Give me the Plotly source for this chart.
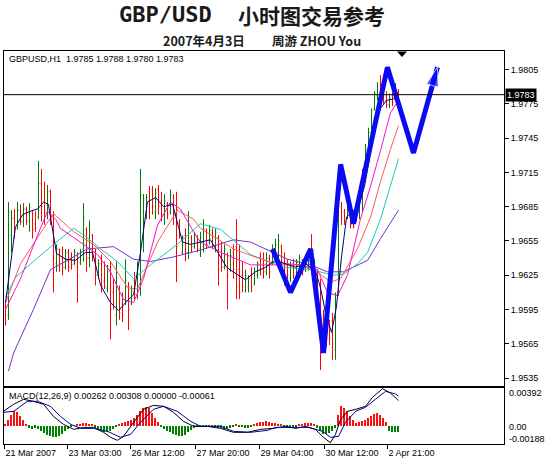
import plotly.graph_objects as go

W, H = 550, 463

# ---------------- price bars (GBPUSD H1) ----------------
open_ = [1.9598, 1.9590, 1.9660, 1.9675, 1.9667, 1.9682, 1.9672, 1.9683, 1.9672, 1.9680,
         1.9670, 1.9676, 1.9705, 1.9690, 1.9680, 1.9698, 1.9675, 1.9635, 1.9648, 1.9640,
         1.9632, 1.9645, 1.9640, 1.9635, 1.9643, 1.9636, 1.9648, 1.9665, 1.9640, 1.9660,
         1.9645, 1.9625, 1.9635, 1.9620, 1.9614, 1.9628, 1.9610, 1.9590, 1.9612, 1.9600,
         1.9603, 1.9615, 1.9600, 1.9620, 1.9608, 1.9625, 1.9680, 1.9680, 1.9698, 1.9700,
         1.9680, 1.9700, 1.9690, 1.9675, 1.9688, 1.9680, 1.9693, 1.9685, 1.9670, 1.9645,
         1.9660, 1.9645, 1.9658, 1.9650, 1.9658, 1.9648, 1.9650, 1.9663, 1.9654, 1.9662,
         1.9650, 1.9658, 1.9640, 1.9632, 1.9643, 1.9630, 1.9645, 1.9650, 1.9630, 1.9625,
         1.9612, 1.9614, 1.9625, 1.9618, 1.9625, 1.9640, 1.9635, 1.9628, 1.9640, 1.9635,
         1.9642, 1.9645, 1.9650, 1.9635, 1.9635, 1.9622, 1.9635, 1.9627, 1.9630, 1.9638,
         1.9630, 1.9632, 1.9645, 1.9628, 1.9628, 1.9615, 1.9580, 1.9575, 1.9580, 1.9585,
         1.9560, 1.9610, 1.9685, 1.9680, 1.9675, 1.9680, 1.9675, 1.9674, 1.9680, 1.9688,
         1.9712, 1.9733, 1.9750, 1.9770, 1.9782, 1.9792, 1.9786, 1.9782, 1.9774, 1.9782,
         1.9778, 1.9785]
high = [1.9601, 1.9689, 1.9682, 1.9683, 1.9689, 1.9687, 1.9688, 1.9685, 1.9688, 1.9681,
        1.9681, 1.9725, 1.9718, 1.9707, 1.9704, 1.9700, 1.9681, 1.9652, 1.9648, 1.9650,
        1.9648, 1.9648, 1.9645, 1.9648, 1.9645, 1.9648, 1.9688, 1.9667, 1.9673, 1.9661,
        1.9648, 1.9639, 1.9643, 1.9637, 1.9634, 1.9637, 1.9622, 1.9637, 1.9616, 1.9610,
        1.9639, 1.9619, 1.9616, 1.9628, 1.9637, 1.9718, 1.9696, 1.9696, 1.9703, 1.9703,
        1.9701, 1.9704, 1.9698, 1.9696, 1.9689, 1.9700, 1.9696, 1.9698, 1.9674, 1.9660,
        1.9666, 1.9681, 1.9660, 1.9663, 1.9660, 1.9663, 1.9674, 1.9666, 1.9669, 1.9666,
        1.9666, 1.9660, 1.9654, 1.9652, 1.9645, 1.9648, 1.9652, 1.9674, 1.9652, 1.9637,
        1.9630, 1.9625, 1.9632, 1.9632, 1.9637, 1.9645, 1.9645, 1.9645, 1.9643, 1.9652,
        1.9657, 1.9661, 1.9652, 1.9645, 1.9639, 1.9637, 1.9639, 1.9639, 1.9643, 1.9639,
        1.9643, 1.9641, 1.9661, 1.9639, 1.9630, 1.9622, 1.9595, 1.9586, 1.9586, 1.9592,
        1.9610, 1.9716, 1.9689, 1.9683, 1.9687, 1.9681, 1.9678, 1.9687, 1.9692, 1.9718,
        1.9740, 1.9754, 1.9771, 1.9786, 1.9794, 1.9800, 1.9789, 1.9786, 1.9784, 1.9785,
        1.9793, 1.9788]
low = [1.9581, 1.9586, 1.9645, 1.9657, 1.9665, 1.9669, 1.9667, 1.9669, 1.9663, 1.9657,
       1.9663, 1.9674, 1.9672, 1.9669, 1.9674, 1.9669, 1.9610, 1.9628, 1.9628, 1.9625,
       1.9630, 1.9628, 1.9630, 1.9634, 1.9601, 1.9634, 1.9637, 1.9628, 1.9632, 1.9637,
       1.9616, 1.9622, 1.9610, 1.9613, 1.9610, 1.9569, 1.9595, 1.9581, 1.9586, 1.9584,
       1.9599, 1.9577, 1.9599, 1.9604, 1.9604, 1.9607, 1.9645, 1.9674, 1.9674, 1.9678,
       1.9674, 1.9678, 1.9672, 1.9669, 1.9674, 1.9678, 1.9669, 1.9619, 1.9657, 1.9643,
       1.9637, 1.9639, 1.9645, 1.9648, 1.9645, 1.9641, 1.9645, 1.9648, 1.9652, 1.9648,
       1.9645, 1.9616, 1.9628, 1.9630, 1.9595, 1.9628, 1.9622, 1.9604, 1.9604, 1.9610,
       1.9610, 1.9610, 1.9610, 1.9616, 1.9622, 1.9625, 1.9622, 1.9625, 1.9622, 1.9634,
       1.9639, 1.9637, 1.9625, 1.9616, 1.9622, 1.9619, 1.9622, 1.9625, 1.9628, 1.9625,
       1.9628, 1.9629, 1.9634, 1.9625, 1.9610, 1.9542, 1.9557, 1.9562, 1.9564, 1.9551,
       1.9551, 1.9607, 1.9669, 1.9669, 1.9674, 1.9666, 1.9666, 1.9672, 1.9674, 1.9681,
       1.9710, 1.9725, 1.9749, 1.9769, 1.9778, 1.9780, 1.9775, 1.9771, 1.9771, 1.9773,
       1.9778, 1.9780]
close = [1.9585, 1.9680, 1.9675, 1.9665, 1.9682, 1.9672, 1.9683, 1.9673, 1.9684, 1.9665,
         1.9666, 1.9705, 1.9685, 1.9680, 1.9698, 1.9675, 1.9640, 1.9648, 1.9635, 1.9632,
         1.9645, 1.9632, 1.9634, 1.9645, 1.9625, 1.9645, 1.9675, 1.9640, 1.9665, 1.9645,
         1.9625, 1.9635, 1.9615, 1.9615, 1.9628, 1.9595, 1.9600, 1.9615, 1.9592, 1.9590,
         1.9620, 1.9595, 1.9612, 1.9608, 1.9630, 1.9695, 1.9692, 1.9693, 1.9680, 1.9685,
         1.9697, 1.9685, 1.9678, 1.9690, 1.9678, 1.9695, 1.9675, 1.9650, 1.9660, 1.9658,
         1.9645, 1.9670, 1.9650, 1.9660, 1.9648, 1.9658, 1.9665, 1.9652, 1.9664, 1.9652,
         1.9662, 1.9630, 1.9632, 1.9648, 1.9625, 1.9642, 1.9630, 1.9615, 1.9610, 1.9615,
         1.9625, 1.9622, 1.9615, 1.9628, 1.9635, 1.9630, 1.9628, 1.9640, 1.9628, 1.9648,
         1.9652, 1.9655, 1.9632, 1.9622, 1.9625, 1.9634, 1.9625, 1.9636, 1.9640, 1.9628,
         1.9640, 1.9638, 1.9636, 1.9636, 1.9612, 1.9560, 1.9565, 1.9568, 1.9570, 1.9565,
         1.9600, 1.9700, 1.9675, 1.9672, 1.9684, 1.9670, 1.9668, 1.9684, 1.9690, 1.9712,
         1.9735, 1.9750, 1.9768, 1.9784, 1.9790, 1.9783, 1.9778, 1.9774, 1.9780, 1.9776,
         1.9786, 1.9783]
bars = list(range(len(close)))

# ---------------- moving averages ----------------
ma_navy_x = [0, 1.7, 3.3, 5.7, 8.3, 10.7, 12.7, 14.3, 15.7, 17, 20, 23.3, 26.7, 29, 31.7, 35,
             37.7, 40, 42.7, 45, 47.3, 50, 52.7, 55.7, 57.7, 59, 61.7, 65, 68.3, 71, 73.7, 77,
             80, 83.3, 86.7, 90, 93.3, 96.7, 100, 103.3, 105, 107, 108.7, 110.3, 112, 113.7,
             115.7, 117.7, 119.7, 121.7, 123.3, 125, 127, 129, 131]
ma_navy_y = [1.9601, 1.9635, 1.9667, 1.9678, 1.9681, 1.9683, 1.9689, 1.9687, 1.9663, 1.9644,
             1.9639, 1.9638, 1.9645, 1.9645, 1.9616, 1.9601, 1.9594, 1.9601, 1.9608, 1.9645,
             1.9689, 1.9693, 1.9685, 1.9687, 1.9667, 1.9654, 1.9652, 1.9654, 1.9656, 1.9644,
             1.9632, 1.9626, 1.9621, 1.9628, 1.9632, 1.9638, 1.9635, 1.9632, 1.9635, 1.9629,
             1.9614, 1.9588, 1.9575, 1.9597, 1.9641, 1.9676, 1.9681, 1.9685, 1.9703, 1.9734,
             1.9756, 1.9771, 1.9778, 1.9779, 1.9781]
ma_magenta_x = [0, 5, 10.7, 14, 16.7, 18.3, 26, 30.7, 35, 39.3, 42.7, 46, 50.7, 55, 58.3, 62.7,
                65, 71.7, 81.7, 90.7, 98.3, 104, 107.3, 110.7, 114, 118.3, 121.7, 125, 128.3, 131]
ma_magenta_y = [1.9595, 1.9622, 1.9660, 1.9681, 1.9674, 1.9666, 1.9652, 1.9643, 1.9628, 1.9604,
                1.9601, 1.9622, 1.9669, 1.9689, 1.9683, 1.9663, 1.9654, 1.9645, 1.9634, 1.9634,
                1.9634, 1.9630, 1.9610, 1.9607, 1.9625, 1.9674, 1.9703, 1.9734, 1.9767, 1.9778]
ma_salmon_x = [0, 5, 12.7, 16, 22.7, 29.3, 35, 40.7, 44, 50.7, 57.3, 62.7, 65, 76, 87.3, 98.3,
               104, 108.3, 111.7, 117.3, 121.7, 125, 128.3, 131]
ma_salmon_y = [1.9601, 1.9635, 1.9666, 1.9679, 1.9663, 1.9652, 1.9637, 1.9614, 1.9613, 1.9654,
               1.9682, 1.9674, 1.9666, 1.9648, 1.9637, 1.9634, 1.9628, 1.9619, 1.9622, 1.9648,
               1.9676, 1.9707, 1.9735, 1.9756]
ma_cyan_x = [0, 3.3, 9.3, 16, 22.7, 26.7, 31.7, 37.3, 42.7, 48.3, 57.3, 65, 71.7, 81.7, 92.7,
             101.7, 109.3, 112.7, 117.3, 120.7, 125, 128.3, 131]
ma_cyan_y = [1.9606, 1.9623, 1.9637, 1.9652, 1.9666, 1.9659, 1.9648, 1.9637, 1.9622, 1.9634,
             1.9652, 1.9670, 1.9665, 1.9643, 1.9632, 1.9630, 1.9625, 1.9626, 1.9635, 1.9645,
             1.9674, 1.9703, 1.9727]
ma_purple_x = [1, 2.7, 9.3, 15, 20.7, 27.3, 36, 42.7, 48.3, 56, 65, 76, 81.7, 87.3, 94, 101.7,
               107.3, 112.7, 120.7, 125, 131]
ma_purple_y = [1.9541, 1.9557, 1.9595, 1.9630, 1.9638, 1.9648, 1.9650, 1.9639, 1.9637, 1.9641,
               1.9647, 1.9656, 1.9654, 1.9647, 1.9639, 1.9634, 1.9628, 1.9628, 1.9638, 1.9657,
               1.9682]

# ---------------- hand-drawn forecast line ----------------
arrow_x = [89, 95, 101.7, 106, 111.7, 116, 127.3, 136, 144]
arrow_y = [1.9648, 1.9610, 1.9648, 1.9557, 1.9722, 1.9670, 1.9807, 1.9732, 1.9807]

# ---------------- MACD(12,26,9) ----------------
macd_hist = [0.0002, 0.0006, 0.0011, 0.0015, 0.0014, 0.0010, 0.0006, 0.0002,
             -0.0002, -0.0003, -0.0002, -0.0003, -0.0005, -0.0007, -0.0009, -0.0010, -0.0012,
             -0.0012, -0.0011, -0.0008, -0.0005, -0.0003, -0.0001,
             0.00003,
             0.0001, 0.0002, 0.0003, 0.0003, 0.0002, 0.0001,
             -0.0002, -0.0004, -0.0005, -0.0006, -0.0006, -0.0005, -0.0003, -0.0001,
             0.0001, 0.0003, 0.0004, 0.0005, 0.0006, 0.0008, 0.0011, 0.0015, 0.0019, 0.0020,
             0.0018, 0.0013, 0.0008, 0.0004,
             -0.0001, -0.0003, -0.0005, -0.0006, -0.0008, -0.0009, -0.0010, -0.0011, -0.0009,
             -0.0006, -0.0004, -0.0002, -0.0001,
             -0.00005, -0.0001, -0.0001, 0.00005, -0.0001, -0.0001,
             -0.0002, -0.0002, -0.0003, -0.0003, -0.0002, -0.0001,
             0.0001,
             -0.0001, -0.0001, -0.0002, -0.0002, -0.0001,
             0.0001, 0.0003, 0.0004, 0.0004, 0.0005, 0.0004, 0.0003, 0.0003, 0.0002, 0.0001,
             -0.0001, -0.0002, -0.0002, -0.0001, -0.0001,
             0.0001, 0.0002, 0.0003, 0.0003, 0.0003, 0.0001,
             -0.0002, -0.0005, -0.0008, -0.0008, -0.0007, -0.0005, -0.0002,
             0.0011, 0.0021, 0.0019, 0.0015, 0.0010, 0.0006, 0.0003, 0.0004, 0.0005, 0.0006,
             0.0008, 0.0010, 0.0012, 0.0013, 0.0011, 0.0008, 0.0004,
             -0.0005, -0.0006, -0.0006, -0.00061]
macd_main_x = [-0.7, 2.7, 6, 9.3, 12.7, 16, 19.3, 22.7, 26, 29.3, 32.7, 35, 37.3, 39.3, 42.7, 46,
               49.3, 52.7, 56, 59.3, 62.7, 67.3, 71.7, 76, 80.7, 85, 89.3, 93.3, 96.7, 100, 103.3,
               106, 108.3, 110, 111.7, 114, 116.7, 120, 122.3, 125.7, 128.3, 131]
macd_main_y = [0.00150, 0.00223, 0.00275, 0.00254, 0.00223, 0.00098, 0.00016, -0.00036,
               -0.00016, -0.00016, -0.00067, -0.00119, -0.00150, -0.00109, 0.00036, 0.00171,
               0.00212, 0.00202, 0.00140, 0.00047, -0.00005, -0.00005, -0.00026, -0.00067,
               -0.00067, -0.00036, -0.00026, -0.00005, -0.00026, -0.00005, -0.00036, -0.00119,
               -0.00175, -0.00088, 0.00067, 0.00150, 0.00171, 0.00202, 0.00295, 0.00385,
               0.00340, 0.00262]
macd_signal_x = [-0.7, 2.7, 7.3, 10.7, 15, 18.3, 21.7, 25, 29.3, 34, 38.3, 41.7, 45, 49.3, 52.7,
                 57.3, 61.7, 65, 71.7, 76, 81.7, 87.3, 90, 95.7, 101, 105.7, 108.3, 111, 113.3,
                 116.7, 120, 123.3, 126.7, 130, 131]
macd_signal_y = [0.00140, 0.00150, 0.00254, 0.00254, 0.00202, 0.00098, 0.00016, -0.00026,
                 -0.00026, -0.00057, -0.00119, -0.00088, 0.00036, 0.00171, 0.00202, 0.00150,
                 0.00047, -0.00005, -0.00005, -0.00057, -0.00067, -0.00047, -0.00016, -0.00016,
                 -0.00016, -0.00057, -0.00119, -0.00109, 0.00036, 0.00150, 0.00192, 0.00275,
                 0.00357, 0.00330, 0.00308]

# ---------------- axes ticks ----------------
price_ticks = [1.9805, 1.9775, 1.9745, 1.9715, 1.9685, 1.9655, 1.9625, 1.9595, 1.9565, 1.9535]
time_tick_pos = [-0.33, 20.67, 41.67, 63.33, 84.67, 106.33, 127.33]
time_tick_labels = ["21 Mar 2007", "23 Mar 03:00", "26 Mar 12:00", "27 Mar 20:00",
                    "29 Mar 04:00", "30 Mar 12:00", "2 Apr 21:00"]
macd_scale_labels = ["0.00392", "0.00", "-0.00188"]


def px(x):
    return x / W


def py(y):
    return 1 - y / H


FONT = "Liberation Sans, Arial, sans-serif"
XDOM = [px(4), px(504)]
XR = [-0.5, -0.5 + 500 / 3]

fig = go.Figure()

fig.add_trace(go.Ohlc(
    x=bars, open=open_, high=high, low=low, close=close,
    increasing=dict(line=dict(color="#007a00", width=1)),
    decreasing=dict(line=dict(color="#ff0000", width=1)),
    tickwidth=0.3, hoverinfo="skip", showlegend=False, xaxis="x", yaxis="y"))

for xs, ys, col in [(ma_purple_x, ma_purple_y, "#7a2fc8"),
                    (ma_cyan_x, ma_cyan_y, "#1cc8b4"),
                    (ma_salmon_x, ma_salmon_y, "#ff5a5a"),
                    (ma_magenta_x, ma_magenta_y, "#ff10c8"),
                    (ma_navy_x, ma_navy_y, "#00007c")]:
    fig.add_trace(go.Scatter(x=xs, y=ys, mode="lines", line=dict(color=col, width=1),
                             hoverinfo="skip", showlegend=False, xaxis="x", yaxis="y"))

n_arrow = len(arrow_x)
fig.add_trace(go.Scatter(
    x=arrow_x, y=arrow_y, mode="lines+markers",
    line=dict(color="#0a0af5", width=5),
    marker=dict(symbol=["circle"] * (n_arrow - 1) + ["arrow"],
                size=[0] * (n_arrow - 1) + [20], angleref="previous", color="#0a0af5"),
    hoverinfo="skip", showlegend=False, xaxis="x", yaxis="y", cliponaxis=False))

# MACD panel
fig.add_trace(go.Bar(
    x=bars, y=macd_hist, width=0.4,
    marker=dict(color=["#ff1010" if v >= 0 else "#008000" for v in macd_hist], line=dict(width=0)),
    hoverinfo="skip", showlegend=False, xaxis="x2", yaxis="y2"))
fig.add_trace(go.Scatter(x=macd_main_x, y=macd_main_y, mode="lines",
                         line=dict(color="#000000", width=1), hoverinfo="skip",
                         showlegend=False, xaxis="x2", yaxis="y2"))
fig.add_trace(go.Scatter(x=macd_signal_x, y=macd_signal_y, mode="lines",
                         line=dict(color="#00009a", width=1), hoverinfo="skip",
                         showlegend=False, xaxis="x2", yaxis="y2"))

axis_common = dict(showgrid=False, zeroline=False, showline=True, mirror=True,
                   linecolor="black", linewidth=1)

fig.update_layout(
    width=W, height=H,
    margin=dict(l=0, r=0, t=0, b=0, autoexpand=False),
    paper_bgcolor="white", plot_bgcolor="white",
    showlegend=False, bargap=0,
    xaxis=dict(domain=XDOM, range=XR, anchor="y", showticklabels=False, ticks="",
               rangeslider=dict(visible=False), **axis_common),
    yaxis=dict(domain=[py(385.5), py(51)], range=[1.95285, 1.98212], anchor="x", side="right",
               tickvals=price_ticks, tickformat=".4f", ticks="outside", ticklen=4,
               tickcolor="black", tickfont=dict(family=FONT, size=9, color="black"),
               **axis_common),
    xaxis2=dict(domain=XDOM, range=XR, anchor="y2", tickvals=time_tick_pos,
                ticktext=time_tick_labels, ticks="outside", ticklen=4, tickcolor="black",
                ticklabelposition="outside right",
                tickfont=dict(family=FONT, size=9, color="black"), **axis_common),
    yaxis2=dict(domain=[py(444), py(388)], range=[-0.00188, 0.00392], anchor="x2",
                side="right", showticklabels=False, ticks="", **axis_common),
)

annotations = []
common = dict(xref="paper", yref="paper", showarrow=False, xanchor="center", yanchor="middle")
annotations.append(dict(text="<b>GBP/USD</b>", x=px(165), y=py(15),
                        font=dict(family="DejaVu Sans Mono", size=22, color="#1a1a1a"), **common))
annotations.append(dict(text="<b>小时图交易参考</b>", x=px(311), y=py(15),
                        font=dict(family="Noto Sans CJK SC", size=21, color="#1a1a1a"), **common))
annotations.append(dict(text="<b>2007年4月3日</b>", x=px(204), y=py(41),
                        font=dict(family="Noto Sans CJK SC", size=12.5, color="#1a1a1a"), **common))
annotations.append(dict(text="<b>周游 ZHOU You</b>", x=px(316), y=py(41),
                        font=dict(family="Noto Sans CJK SC", size=12.5, color="#1a1a1a"), **common))

info = "GBPUSD,H1  {:.4f} {:.4f} {:.4f} {:.4f}".format(open_[-1], high[-1], low[-1], close[-1])
annotations.append(dict(text=info, x=px(7), y=py(59), xref="paper", yref="paper",
                        xanchor="left", yanchor="middle", showarrow=False,
                        font=dict(family=FONT, size=9, color="black")))
annotations.append(dict(text="MACD(12,26,9) 0.00262 0.00308 0.00000 -0.00061",
                        x=px(7), y=py(396), xref="paper", yref="paper",
                        xanchor="left", yanchor="middle", showarrow=False,
                        font=dict(family=FONT, size=9, color="black")))
# current price box
annotations.append(dict(text="{:.4f}".format(close[-1]), x=px(505), y=close[-1],
                        xref="paper", yref="y", xanchor="left", yanchor="middle",
                        showarrow=False, bgcolor="black", borderpad=1,
                        font=dict(family=FONT, size=9, color="white")))
# MACD scale labels
for lab, yy in zip(macd_scale_labels, [393, 427, 439]):
    annotations.append(dict(text=lab, x=px(507), y=py(yy), xref="paper", yref="paper",
                            xanchor="left", yanchor="middle", showarrow=False,
                            font=dict(family=FONT, size=9, color="black")))
fig.update_layout(annotations=annotations)

fig.add_shape(type="line", xref="paper", yref="y", x0=XDOM[0], x1=XDOM[1],
              y0=close[-1], y1=close[-1], line=dict(color="black", width=1))
fig.add_shape(type="path", xref="paper", yref="paper",
              path="M {},{} L {},{} L {},{} Z".format(px(397), py(51.5), px(407), py(51.5),
                                                     px(402), py(57)),
              fillcolor="black", line=dict(width=0))

fig.write_html("out.html", config={"displayModeBar": False},
               post_script="document.body.style.margin='0';document.body.style.overflow='hidden';")
